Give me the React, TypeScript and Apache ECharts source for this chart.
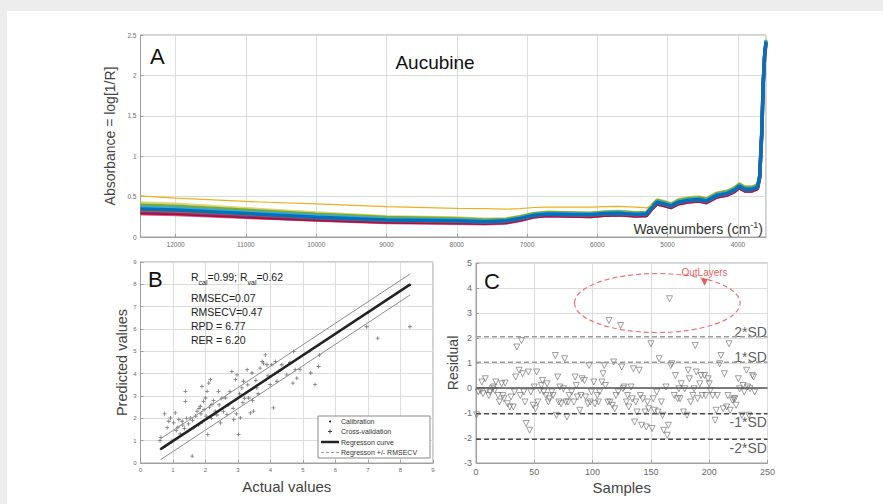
import React, { useEffect, useRef } from 'react';
import * as echarts from 'echarts';

const FONT = 'Liberation Sans, Arial, sans-serif';

// ---------- Panel A : NIR spectra ----------
const wavenumbers = [12500, 12000, 11000, 10000, 9000, 8000, 7600, 7300, 7100, 6900, 6700, 6400, 6100, 5900, 5700, 5450, 5300, 5220, 5150, 5050, 4950, 4850, 4700, 4550, 4450, 4300, 4150, 4050, 3980, 3900, 3800, 3720, 3690, 3660, 3640, 3620, 3600];
const specTop = [0.43, 0.415, 0.36, 0.305, 0.26, 0.245, 0.23, 0.235, 0.265, 0.30, 0.315, 0.31, 0.305, 0.32, 0.325, 0.31, 0.315, 0.41, 0.47, 0.45, 0.42, 0.47, 0.495, 0.505, 0.485, 0.555, 0.58, 0.62, 0.67, 0.63, 0.63, 0.66, 0.80, 1.35, 1.95, 2.3, 2.45];
const specGreen = [0.40, 0.385, 0.335, 0.285, 0.245, 0.23, 0.215, 0.22, 0.25, 0.29, 0.305, 0.30, 0.295, 0.31, 0.315, 0.30, 0.305, 0.395, 0.455, 0.435, 0.405, 0.455, 0.48, 0.49, 0.47, 0.54, 0.565, 0.605, 0.655, 0.615, 0.615, 0.645, 0.78, 1.33, 1.93, 2.28, 2.44];
const specCyan = [0.37, 0.36, 0.31, 0.265, 0.225, 0.215, 0.20, 0.21, 0.24, 0.28, 0.295, 0.29, 0.285, 0.30, 0.305, 0.29, 0.295, 0.38, 0.44, 0.42, 0.395, 0.44, 0.465, 0.475, 0.455, 0.525, 0.55, 0.59, 0.64, 0.60, 0.60, 0.63, 0.76, 1.31, 1.91, 2.26, 2.43];
const specBlue = [0.345, 0.335, 0.29, 0.245, 0.21, 0.20, 0.19, 0.20, 0.23, 0.27, 0.285, 0.28, 0.275, 0.29, 0.295, 0.28, 0.285, 0.37, 0.43, 0.41, 0.385, 0.43, 0.455, 0.465, 0.445, 0.515, 0.54, 0.58, 0.63, 0.59, 0.59, 0.62, 0.75, 1.30, 1.90, 2.25, 2.42];
const specOrange = [0.33, 0.32, 0.28, 0.238, 0.205, 0.195, 0.185, 0.195, 0.225, 0.265, 0.28, 0.275, 0.27, 0.285, 0.29, 0.275, 0.28, 0.365, 0.425, 0.405, 0.38, 0.425, 0.45, 0.46, 0.44, 0.51, 0.535, 0.575, 0.625, 0.585, 0.585, 0.615, 0.745, 1.295, 1.895, 2.245, 2.415];
const specPurple = [0.32, 0.31, 0.27, 0.23, 0.20, 0.19, 0.18, 0.19, 0.22, 0.26, 0.275, 0.27, 0.265, 0.28, 0.285, 0.27, 0.275, 0.36, 0.42, 0.40, 0.375, 0.42, 0.445, 0.455, 0.435, 0.505, 0.53, 0.57, 0.62, 0.58, 0.58, 0.61, 0.74, 1.29, 1.89, 2.24, 2.41];
const specRed = [0.30, 0.29, 0.25, 0.215, 0.185, 0.175, 0.17, 0.18, 0.21, 0.25, 0.265, 0.26, 0.255, 0.27, 0.275, 0.26, 0.265, 0.35, 0.41, 0.39, 0.365, 0.41, 0.435, 0.445, 0.425, 0.495, 0.52, 0.56, 0.61, 0.57, 0.57, 0.60, 0.73, 1.28, 1.88, 2.23, 2.40];
const specBottom = [0.28, 0.27, 0.235, 0.20, 0.17, 0.16, 0.155, 0.165, 0.195, 0.24, 0.255, 0.25, 0.245, 0.26, 0.265, 0.25, 0.255, 0.34, 0.40, 0.38, 0.355, 0.40, 0.425, 0.435, 0.415, 0.485, 0.51, 0.55, 0.60, 0.56, 0.56, 0.59, 0.72, 1.27, 1.87, 2.22, 2.39];
const specOutlier = [0.51, 0.48, 0.44, 0.41, 0.375, 0.355, 0.35, 0.345, 0.35, 0.365, 0.37, 0.37, 0.37, 0.375, 0.38, 0.37, 0.36, 0.40, null, null, null, null, null, null, null, null, null, null, null, null, null, null, null, null, null, null, null];

// ---------- Panel B : predicted vs actual ----------
const calX = [0.62, 0.75, 0.85, 0.95, 1.05, 1.15, 1.25, 1.35, 1.45, 1.55, 1.65, 1.75, 1.85, 1.95, 2.05, 2.15, 2.25, 2.35, 2.5, 2.65, 2.8, 2.95, 3.1, 3.25, 3.4, 3.55, 3.7, 3.85, 4.0, 4.15, 4.3, 4.5, 4.7, 4.9, 5.2, 5.5, 7.0, 7.3, 8.3];
const calY = [0.62, 0.74, 0.85, 0.93, 1.03, 1.12, 1.22, 1.33, 1.41, 1.52, 1.6, 1.71, 1.79, 1.9, 1.99, 2.1, 2.17, 2.29, 2.42, 2.57, 2.72, 2.85, 3.0, 3.15, 3.29, 3.43, 3.58, 3.72, 3.87, 4.02, 4.15, 4.35, 4.53, 4.73, 5.0, 5.3, 6.74, 7.03, 7.98];
const cvPoints = [
  [0.6, 1.0], [0.63, 1.15], [0.74, 2.2], [0.82, 1.58], [0.87, 1.87], [0.92, 2.02], [0.97, 0.98], [1.02, 1.8], [1.07, 2.24], [1.1, 1.45],
  [1.15, 1.6], [1.18, 1.95], [1.22, 1.3], [1.28, 1.87], [1.3, 1.7], [1.35, 1.55], [1.38, 2.76], [1.38, 3.21], [1.42, 2.0], [1.48, 1.75],
  [1.54, 2.02], [1.59, 0.31], [1.6, 1.9], [1.64, 1.58], [1.7, 2.1], [1.74, 2.32], [1.78, 1.7], [1.8, 2.45], [1.84, 2.54], [1.86, 2.2],
  [1.89, 3.43], [1.9, 1.85], [1.94, 2.76], [1.96, 2.4], [2.0, 2.91], [2.02, 2.1], [2.05, 3.21], [2.07, 1.28], [2.1, 3.58], [2.12, 2.5],
  [2.15, 3.73], [2.18, 2.0], [2.2, 2.62], [2.25, 2.8], [2.3, 2.32], [2.35, 2.15], [2.4, 3.21], [2.42, 2.6], [2.46, 1.8], [2.5, 2.9],
  [2.55, 2.3], [2.61, 2.91], [2.66, 2.17], [2.7, 2.6], [2.75, 3.2], [2.81, 4.1], [2.85, 2.45], [2.87, 1.95], [2.92, 3.73], [2.95, 2.2],
  [2.97, 3.95], [3.02, 1.28], [3.05, 3.1], [3.07, 2.02], [3.12, 3.36], [3.15, 2.7], [3.17, 3.66], [3.2, 2.9], [3.28, 4.18], [3.3, 3.5],
  [3.33, 2.91], [3.38, 2.24], [3.43, 4.03], [3.45, 2.8], [3.48, 2.32], [3.55, 3.7], [3.58, 3.36], [3.62, 3.1], [3.68, 4.25], [3.74, 4.55],
  [3.79, 4.47], [3.84, 4.84], [3.89, 4.4], [3.92, 3.9], [3.99, 3.51], [4.04, 4.4], [4.09, 2.47], [4.15, 4.55], [4.2, 3.66], [4.25, 4.1],
  [4.35, 4.4], [4.5, 3.95], [4.6, 4.5], [4.69, 3.58], [4.71, 4.99], [4.76, 4.18], [4.81, 3.8], [4.91, 4.18], [5.24, 4.03], [5.37, 3.51],
  [5.48, 4.32], [5.51, 4.84], [6.96, 6.1], [7.3, 5.59], [8.29, 6.1]
];
const regX = [0.62, 8.3];
const regY = [0.62, 8.0];
const regUpperY = [1.09, 8.47];
const regLowerY = [0.15, 7.53];
const statLines = ['RMSEC=0.07', 'RMSECV=0.47', 'RPD = 6.77', 'RER = 6.20'];
const legendLabels = ['Calibration', 'Cross-validation', 'Regresson curve', 'Regresson +/- RMSECV'];

// ---------- Panel C : residuals ----------
const residPoints = [
  [0.5, -1.07], [2, -0.16], [4, -0.1], [5, 0.24], [6, -0.23], [8, 0.37], [9, -0.1], [11, -0.3], [12, -0.16], [14, -0.03], [15, 0.04], [16, -0.1], [17, 0.24], [19, -0.3], [20, -0.56],
  [22, 0.17], [23, -0.3], [24, -0.43], [25, 0.2], [27, -0.63], [29, -0.76], [30, -0.36], [32, -0.76], [33, -0.16], [34, 0.44], [35, 1.64], [37, 0.71], [38, -0.3], [39, 1.9], [40, 0.57],
  [41, -0.16], [42, -0.56], [43, -1.42], [45, 0.64], [46, -1.69], [47, -0.16], [49, -0.69], [50, 0.04], [51, -0.83], [52, 0.64], [53, -0.56], [55, -0.1], [56, 0.1], [57, 0.3], [58, -0.16],
  [60, -0.3], [61, 0.17], [62, -0.56], [63, -0.43], [65, -0.16], [66, -0.3], [68, 1.3], [69, -1.09], [70, 0.44], [71, -0.56], [72, 0.04], [73, -0.63], [75, -0.03], [76, 1.17], [77, -0.56], [78, -1.16], [79, -0.56], [80, -0.3],
  [82, -0.16], [84, -0.56], [85, 0.44], [86, 0.1], [87, -0.36], [89, -0.89], [90, -0.3], [91, 0.37], [93, 0.3], [94, -0.36], [96, -0.63], [97, 0.9], [98, -0.56], [99, -0.16], [101, 0.24],
  [102, -0.63], [104, -0.3], [105, -0.56], [106, -0.16], [108, 0.24], [109, 0.57], [110, 0.9], [111, 0.1], [113, -0.56], [114, 2.7], [115, -0.56], [117, -0.69], [118, 1.04], [119, -0.83], [120, -0.3],
  [122, -0.16], [124, 2.5], [125, 0.84], [126, -0.03], [127, 0.04], [129, -0.56], [130, -0.3], [131, -0.76], [133, 0.04], [134, -0.43], [135, 0.77], [136, -1.36], [137, -0.56], [138, -0.96], [140, 0.71],
  [141, -0.3], [142, -1.49], [143, -0.43], [145, -0.96], [146, -1.56], [147, -0.56], [148, -0.83], [150, 1.77], [151, -1.62], [152, -0.43], [153, -0.89], [155, -0.16], [156, -0.96], [157, 1.17], [159, -0.56], [160, -1.09],
  [161, -1.69], [163, 0.04], [164, -1.89], [165, -1.49], [166, 3.57], [167, 0.9], [168, 0.97], [170, -0.3], [171, 0.5], [173, -0.43], [174, -0.03], [175, -0.43], [176, 0.17], [178, -0.96], [179, -0.03], [181, -1.09],
  [182, 0.71], [183, 0.37], [184, -0.56], [186, -0.3], [187, -0.03], [188, 1.7], [189, 0.64], [190, -0.43], [192, 0.17], [193, 0.5], [194, -0.3], [196, 0.5], [197, -0.3], [199, 0.37], [200, 0.17],
  [201, -0.1], [203, -0.3], [205, -1.29], [206, -0.89], [207, -0.3], [209, 0.97], [210, 1.3], [212, -0.83], [213, 0.57], [215, -0.76], [216, -0.3], [217, 1.77], [218, -0.89], [220, -0.49], [221, -0.43],
  [222, -0.43], [223, -0.69], [225, 0.37], [226, -0.03], [228, -1.09], [229, 0.1], [230, -0.16], [232, 0.71], [233, 0.04], [234, -1.09], [235, -0.03], [237, 0.5], [238, 0.44], [239, -0.16]
];
const outlierPoint = [196, 4.23];
const ellipseSpec = [155.5, 3.4, 71, 1.18]; // centre sample, centre residual, half-width (samples), half-height (residual)
const sdLevels = [2.05, 1.03, -1.03, -2.05];
const sdLabels = ['2*SD', '1*SD', '-1*SD', '-2*SD'];
const sdLabelY = [2.26, 1.24, -1.36, -2.4];

const AX = '#a0a0a0';
const LBL = '#6a6a6a';

function axisBase(fontSize: number) {
  return {
    axisLine: { show: true, onZero: false, lineStyle: { color: AX, width: 1 } },
    axisTick: { show: true, inside: true, length: 3, lineStyle: { color: AX } },
    axisLabel: { color: LBL, fontSize, fontFamily: FONT, margin: 4 },
    splitLine: { show: true, lineStyle: { color: '#dcdcdc', width: 1 } },
    nameTextStyle: { color: '#444', fontFamily: FONT },
  };
}

export default function App() {
  const ref = useRef<HTMLDivElement>(null);
  useEffect(() => {
    const chart = echarts.init(ref.current!, null, { renderer: 'svg' });
    const specSeries = [
      { d: specTop, c: '#dcd478', w: 2 },
      { d: specGreen, c: '#77AC30', w: 3 },
      { d: specCyan, c: '#3aa8d8', w: 3 },
      { d: specBottom, c: '#e0559a', w: 2 },
      { d: specRed, c: '#A2142F', w: 3.5 },
      { d: specPurple, c: '#7E2F8E', w: 3.5 },
      { d: specOrange, c: '#D95319', w: 3 },
      { d: specBlue, c: '#0072BD', w: 3.5 },
      { d: specOutlier, c: '#EDB120', w: 1.2 },
    ].map((s) => ({
      type: 'line', xAxisIndex: 0, yAxisIndex: 0, showSymbol: false, silent: true,
      data: wavenumbers.map((w, i) => [w, s.d[i]]),
      lineStyle: { color: s.c, width: s.w }, connectNulls: false,
    }));

    const lineB = (ys: number[], color: string, width: number) => ({
      type: 'line', xAxisIndex: 1, yAxisIndex: 1, showSymbol: false, silent: true,
      data: regX.map((x, i) => [x, ys[i]]), lineStyle: { color, width }, z: 4,
    });

    const sdSeries = sdLevels.map((lv) => ({
      type: 'line', xAxisIndex: 2, yAxisIndex: 2, showSymbol: false, silent: true,
      data: [[0, lv], [250, lv]],
      lineStyle: { color: lv > 0 ? '#9c9c9c' : '#4a4a4a', width: lv > 0 ? 1.3 : 1.6, type: [5, 3] },
    }));

    const legendRowsY = [421.5, 431.5, 442, 452.5];
    const legendGraphics: any[] = [
      { type: 'rect', z: 100, shape: { x: 318, y: 416, width: 112, height: 42 }, style: { fill: '#fff', stroke: '#8a8a8a', lineWidth: 1 } },
      { type: 'circle', z: 101, shape: { cx: 330, cy: legendRowsY[0], r: 1 }, style: { fill: '#222' } },
      { type: 'line', z: 101, shape: { x1: 328, y1: legendRowsY[1], x2: 332, y2: legendRowsY[1] }, style: { stroke: '#444', lineWidth: 1 } },
      { type: 'line', z: 101, shape: { x1: 330, y1: legendRowsY[1] - 2, x2: 330, y2: legendRowsY[1] + 2 }, style: { stroke: '#444', lineWidth: 1 } },
      { type: 'line', z: 101, shape: { x1: 321, y1: legendRowsY[2], x2: 339, y2: legendRowsY[2] }, style: { stroke: '#222', lineWidth: 2.5 } },
      { type: 'line', z: 101, shape: { x1: 321, y1: legendRowsY[3], x2: 339, y2: legendRowsY[3] }, style: { stroke: '#999', lineWidth: 1, lineDash: [3, 2] } },
      ...legendLabels.map((t, i) => ({
        type: 'text', z: 101, x: 341, y: legendRowsY[i],
        style: { text: t, fontSize: 7, fontFamily: FONT, fill: '#333', verticalAlign: 'middle' },
      })),
    ];

    const option: any = {
      animation: false,
      backgroundColor: '#ffffff',
      grid: [
        { left: 140.5, top: 35, width: 625.5, height: 202, show: true, borderColor: AX, borderWidth: 1, backgroundColor: '#fff' },
        { left: 140.5, top: 262, width: 292.5, height: 201, show: true, borderColor: AX, borderWidth: 1, backgroundColor: '#fff' },
        { left: 476, top: 263, width: 291.5, height: 200, show: true, borderColor: AX, borderWidth: 1, backgroundColor: '#fff' },
      ],
      xAxis: [
        {
          ...axisBase(6.5), gridIndex: 0, type: 'value', inverse: true, min: 3600, max: 12500, splitNumber: 9,
          axisLabel: { color: LBL, fontSize: 6.5, fontFamily: FONT, margin: 4, showMinLabel: false, showMaxLabel: false, formatter: (v: number) => String(v) },
        },
        {
          ...axisBase(6), gridIndex: 1, type: 'value', min: 0, max: 9, interval: 1,
          name: 'Actual values', nameLocation: 'middle', nameGap: 16,
          nameTextStyle: { color: '#444', fontFamily: FONT, fontSize: 15 },
        },
        {
          ...axisBase(9), gridIndex: 2, type: 'value', min: 0, max: 250, interval: 50,
          name: 'Samples', nameLocation: 'middle', nameGap: 17,
          nameTextStyle: { color: '#444', fontFamily: FONT, fontSize: 15 },
        },
      ],
      yAxis: [
        {
          ...axisBase(6.5), gridIndex: 0, type: 'value', min: 0, max: 2.5, interval: 0.5,
          name: 'Absorbance = log[1/R]', nameLocation: 'middle', nameGap: 17,
          nameTextStyle: { color: '#444', fontFamily: FONT, fontSize: 14 },
        },
        {
          ...axisBase(6), gridIndex: 1, type: 'value', min: 0, max: 9, interval: 1,
          name: 'Predicted values', nameLocation: 'middle', nameGap: 9,
          nameTextStyle: { color: '#444', fontFamily: FONT, fontSize: 14.5 },
        },
        {
          ...axisBase(9), gridIndex: 2, type: 'value', min: -3, max: 5, interval: 1,
          name: 'Residual', nameLocation: 'middle', nameGap: 13,
          nameTextStyle: { color: '#444', fontFamily: FONT, fontSize: 14 },
        },
      ],
      series: [
        ...specSeries,
        {
          type: 'scatter', xAxisIndex: 1, yAxisIndex: 1, silent: true, symbol: 'circle', symbolSize: 2,
          data: calX.map((x, i) => [x, calY[i]]), itemStyle: { color: '#222' },
        },
        {
          type: 'scatter', xAxisIndex: 1, yAxisIndex: 1, silent: true,
          symbol: 'path://M4,0h2v4h4v2h-4v4h-2v-4h-4v-2h4z', symbolSize: 4,
          data: cvPoints, itemStyle: { color: '#555' },
        },
        lineB(regUpperY, '#8c8c8c', 1),
        lineB(regLowerY, '#8c8c8c', 1),
        lineB(regY, '#222', 2.5),
        ...sdSeries,
        {
          type: 'line', xAxisIndex: 2, yAxisIndex: 2, showSymbol: false, silent: true,
          data: [[0, 0], [250, 0]], lineStyle: { color: '#555', width: 1.3 },
        },
        {
          type: 'scatter', xAxisIndex: 2, yAxisIndex: 2, silent: true,
          symbol: 'triangle', symbolRotate: 180, symbolSize: 6,
          data: residPoints,
          itemStyle: { color: 'rgba(255,255,255,0)', borderColor: '#6a6a6a', borderWidth: 0.8 },
        },
        {
          type: 'scatter', xAxisIndex: 2, yAxisIndex: 2, silent: true,
          symbol: 'triangle', symbolRotate: 180, symbolSize: 7,
          data: [outlierPoint], itemStyle: { color: '#e8302a' },
          label: { show: true, position: 'top', distance: 1, formatter: 'OutLayers', color: '#e8302a', fontSize: 10, fontFamily: FONT },
        },
        {
          type: 'scatter', xAxisIndex: 2, yAxisIndex: 2, silent: true, symbolSize: 0,
          data: sdLabels.map((t, i) => ({ value: [249.5, sdLabelY[i]], name: t })),
          label: { show: true, position: 'left', distance: 0, formatter: (p: any) => p.name, color: '#333', fontSize: 14, fontFamily: FONT },
        },
        {
          type: 'custom', xAxisIndex: 2, yAxisIndex: 2, silent: true,
          data: [ellipseSpec],
          renderItem: (params: any, api: any) => {
            const c = api.coord([api.value(0), api.value(1)]);
            const s = api.size([api.value(2), api.value(3)]);
            return {
              type: 'ellipse',
              shape: { cx: c[0], cy: c[1], rx: s[0], ry: s[1] },
              style: { fill: 'none', stroke: 'rgba(240,90,90,0.85)', lineWidth: 1.2, lineDash: [5, 3] },
            };
          },
        },
      ],
      graphic: [
        { type: 'rect', shape: { x: 0, y: 0, width: 883, height: 11 }, style: { fill: '#ededed' } },
        { type: 'rect', shape: { x: 0, y: 0, width: 7, height: 504 }, style: { fill: '#ededed' } },
        { type: 'text', z: 100, x: 150, y: 56, style: { text: 'A', fontSize: 22, fontFamily: FONT, fill: '#111', verticalAlign: 'middle' } },
        { type: 'text', z: 100, x: 435, y: 62, style: { text: 'Aucubine', fontSize: 19, fontFamily: FONT, fill: '#111', align: 'center', verticalAlign: 'middle' } },
        {
          type: 'text', z: 100, x: 763, y: 229,
          style: {
            text: '{m|Wavenumbers (cm}{s|-1}{m|)}', align: 'right', verticalAlign: 'middle',
            rich: {
              m: { fontSize: 14, fontFamily: FONT, fill: '#333', lineHeight: 18, verticalAlign: 'middle' },
              s: { fontSize: 9, fontFamily: FONT, fill: '#333', lineHeight: 18, verticalAlign: 'top' },
            },
          },
        },
        { type: 'text', z: 100, x: 148, y: 279, style: { text: 'B', fontSize: 22, fontFamily: FONT, fill: '#111', verticalAlign: 'middle' } },
        {
          type: 'text', z: 100, x: 191, y: 277,
          style: {
            text: '{m|R}{s|cal}{m|=0.99; R}{s|val}{m|=0.62}', verticalAlign: 'middle',
            rich: {
              m: { fontSize: 10.5, fontFamily: FONT, fill: '#222', lineHeight: 18, verticalAlign: 'middle' },
              s: { fontSize: 7, fontFamily: FONT, fill: '#222', lineHeight: 18, verticalAlign: 'bottom' },
            },
          },
        },
        ...statLines.map((t, i) => ({
          type: 'text', z: 100, x: 191, y: [298, 312, 326, 339.5][i],
          style: { text: t, fontSize: 10.5, fontFamily: FONT, fill: '#222', verticalAlign: 'middle' },
        })),
        { type: 'text', z: 100, x: 484, y: 281, style: { text: 'C', fontSize: 22, fontFamily: FONT, fill: '#111', verticalAlign: 'middle' } },
        ...legendGraphics,
      ],
    };
    chart.setOption(option);
    return () => chart.dispose();
  }, []);
  return <div ref={ref} style={{ position: 'fixed', left: 0, top: 0, width: 883, height: 504 }} />;
}
